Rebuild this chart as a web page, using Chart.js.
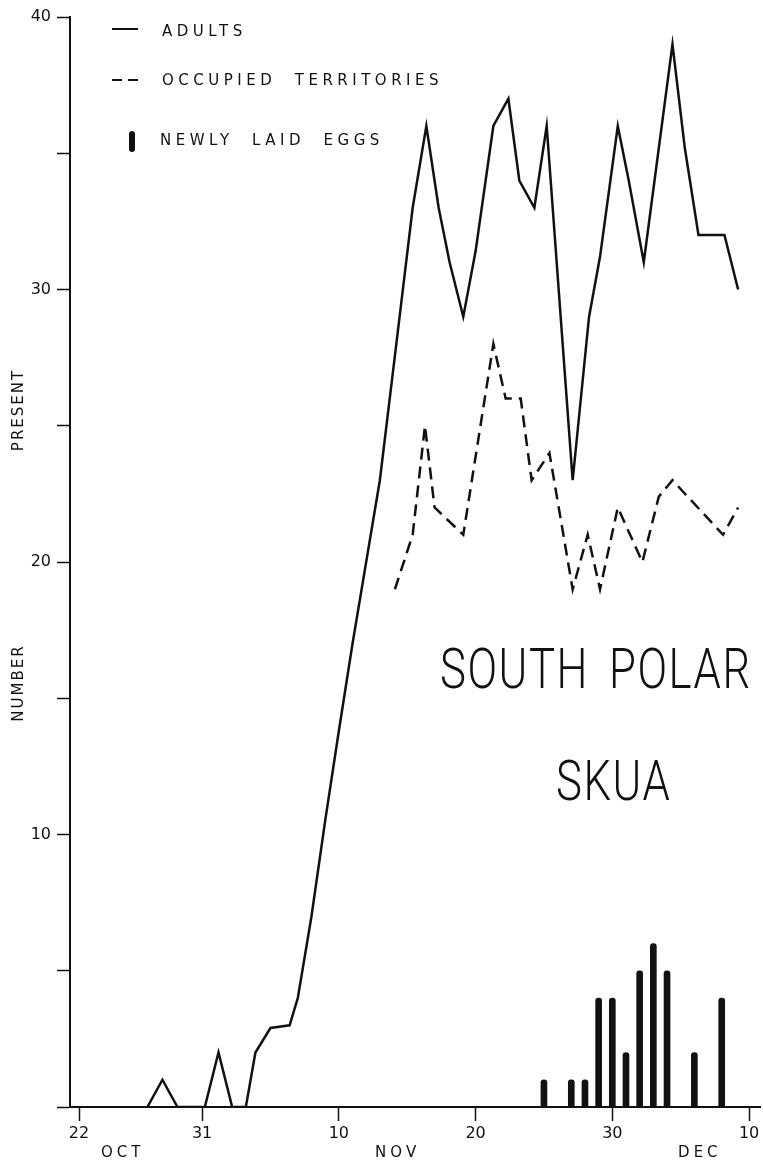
<!DOCTYPE html>
<html>
<head>
<meta charset="utf-8">
<script src="https://cdn.jsdelivr.net/npm/chart.js@4.4.0/dist/chart.umd.min.js"></script>
<style>
  html, body { margin: 0; padding: 0; background: #fff; }
  #wrap { position: relative; width: 763px; height: 1165px; overflow: hidden; }
  #chart { position: absolute; left: 0; top: 0; }
  .txt { position: absolute; color: #111; font-family: "DejaVu Sans", sans-serif; white-space: nowrap; line-height: 1; }
  .legend { font-size: 15px; letter-spacing: 4.5px; }
  .swatch { position: absolute; }
  .big { font-family: Roboto, "DejaVu Sans", sans-serif; font-size: 56px; font-weight: 300; letter-spacing: 2px; word-spacing: 10px; transform: scaleX(0.78); transform-origin: 0 0; }
  .axisword { font-size: 15px; letter-spacing: 2px; transform: translate(-50%, -50%) rotate(-90deg); }
</style>
</head>
<body>
<div id="wrap">
  <canvas id="chart" width="763" height="1165"></canvas>

  <div class="swatch" style="left:112px; top:28px; width:26px; border-top:2px solid #111;"></div>
  <div class="txt legend" style="left:162px; top:24px;">ADULTS</div>
  <div class="swatch" style="left:112px; top:79px; width:26px; height:2px; background:repeating-linear-gradient(to right, #111 0 10px, transparent 10px 16px);"></div>
  <div class="txt legend" style="left:162px; top:73px;">OCCUPIED&nbsp; TERRITORIES</div>
  <div class="swatch" style="left:129px; top:131px; width:6px; height:21px; background:#111; border-radius:3px;"></div>
  <div class="txt legend" style="left:160px; top:133px;">NEWLY&nbsp; LAID&nbsp; EGGS</div>

  <div class="txt big" style="left:440px; top:641px;">SOUTH POLAR</div>
  <div class="txt big" style="left:556px; top:753px;">SKUA</div>

  <div class="txt axisword" style="left:18px; top:410px;">PRESENT</div>
  <div class="txt axisword" style="left:18px; top:683px;">NUMBER</div>
</div>

<script>
// days counted from 22 Oct (day 0)
const adultDays = [5, 6.1, 7.2, 9.2, 10.2, 11.2, 12.2, 12.9, 14, 15.4, 16, 17, 18, 19, 20, 21, 22, 23.3, 24.4, 25.4, 26.3, 27.1, 28.1, 29, 30.3, 31.4, 32.2, 33.3, 34.2, 36.1, 37.3, 38.1, 39.4, 40.2, 41.3, 43.4, 44.3, 45.3, 47.2, 48.2];
const adults = [0, 1, 0, 0, 2, 0, 0, 2, 2.9, 3, 4, 7, 10.5, 13.8, 17, 20, 23, 28.4, 33, 36, 33, 31, 29, 31.4, 36, 37, 34, 33, 36, 23, 29, 31.2, 36, 34, 31, 39, 35.2, 32, 32, 30];

const terrDays = [23.1, 24.4, 25.3, 26, 28.1, 30.3, 31.2, 32.3, 33.1, 34.4, 36.1, 37.2, 38.1, 39.4, 41.2, 42.4, 43.4, 47.1, 48.2];
const territories = [19, 21, 25, 22, 21, 28, 26, 26, 23, 24, 19, 21, 19, 22, 20, 22.4, 23, 21, 22];

const eggDays = [34, 36, 37, 38, 39, 40, 41, 42, 43, 45, 47];
const eggs = [1, 1, 1, 4, 4, 2, 5, 6, 5, 2, 4];

const tickDays = [0, 9, 19, 29, 39, 49];
const tickLabels = ["22", "31", "10", "20", "30", "10"];
const months = ["OCT", "NOV", "DEC"];

const ink = "#111";

function pts(xs, ys) {
  return xs.map((x, i) => ({ x: x, y: ys[i] }));
}

// month names under the day numbers
const monthPlugin = {
  id: "months",
  afterDraw(chart) {
    const c = chart.ctx;
    const xs = chart.scales.x;
    const at = [3.2, 23.3, 45.4];
    c.save();
    c.fillStyle = ink;
    c.font = "15px 'DejaVu Sans'";
    c.letterSpacing = "4px";
    c.textAlign = "center";
    c.textBaseline = "middle";
    months.forEach((m, i) => {
      c.fillText(m, xs.getPixelForValue(at[i]), 1153);
    });
    c.restore();
  }
};

new Chart(document.getElementById("chart"), {
  type: "line",
  data: {
    datasets: [
      {
        type: "bar",
        label: "NEWLY LAID EGGS",
        data: pts(eggDays, eggs),
        backgroundColor: ink,
        barThickness: 6,
        borderRadius: { topLeft: 3, topRight: 3 },
        borderSkipped: "bottom"
      },
      {
        label: "ADULTS",
        data: pts(adultDays, adults),
        borderColor: ink,
        borderWidth: 2.5,
        pointRadius: 0,
        tension: 0,
        fill: false
      },
      {
        label: "OCCUPIED TERRITORIES",
        data: pts(terrDays, territories),
        borderColor: ink,
        borderWidth: 2.5,
        borderDash: [12, 7],
        pointRadius: 0,
        tension: 0,
        fill: false
      }
    ]
  },
  options: {
    responsive: false,
    animation: false,
    layout: { padding: { top: 17, right: 3, left: 0, bottom: 0 } },
    plugins: { legend: { display: false }, tooltip: { enabled: false } },
    scales: {
      x: {
        type: "linear",
        min: -0.66,
        max: 49.8,
        offset: false,
        afterFit: (s) => { s.height = 58; },
        afterBuildTicks: (s) => { s.ticks = tickDays.map((v) => ({ value: v })); },
        grid: { drawOnChartArea: false, offset: false, tickLength: 14, tickColor: ink, tickWidth: 1.5 },
        border: { color: ink, width: 2 },
        ticks: {
          autoSkip: false,
          maxRotation: 0,
          padding: 3,
          color: ink,
          font: { family: "DejaVu Sans", size: 16 },
          callback: (v, i) => tickLabels[i]
        }
      },
      y: {
        min: 0,
        max: 40,
        afterFit: (s) => { s.width = 70; },
        grid: { drawOnChartArea: false, tickLength: 13, tickColor: ink, tickWidth: 1.5 },
        border: { color: ink, width: 2 },
        ticks: {
          stepSize: 5,
          padding: 6,
          color: ink,
          font: { family: "DejaVu Sans", size: 16 },
          callback: (v) => (v > 0 && v % 10 === 0 ? String(v) : "")
        }
      }
    }
  },
  plugins: [monthPlugin]
});
</script>
</body>
</html>
